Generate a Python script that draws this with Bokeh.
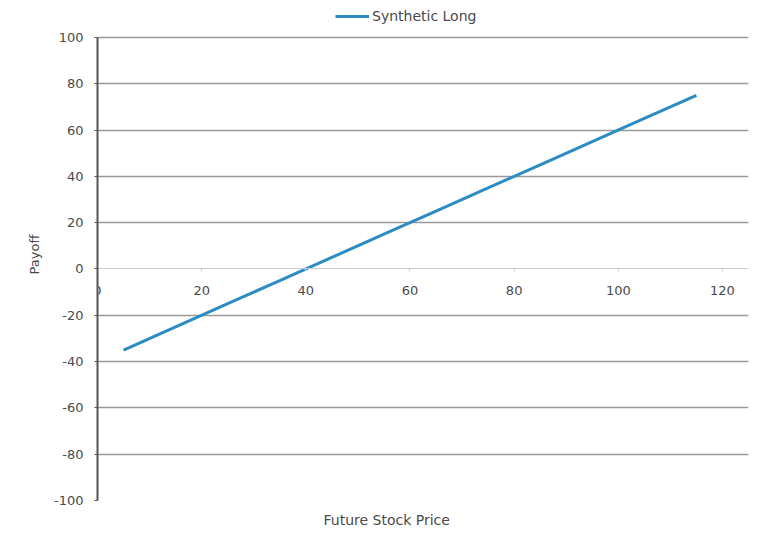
from bokeh.plotting import figure
from bokeh.models import Range1d, Legend, LegendItem, Title, FixedTicker, PrintfTickFormatter
from bokeh.embed import file_html
from bokeh.resources import INLINE

stock_price = [5, 15, 25, 35, 45, 55, 65, 75, 85, 95, 105, 115]
payoff = [-35, -25, -15, -5, 5, 15, 25, 35, 45, 55, 65, 75]
x_ticks = [0, 20, 40, 60, 80, 100, 120]
y_ticks = [-100, -80, -60, -40, -20, 0, 20, 40, 60, 80, 100]
series_name = "Synthetic Long"

FONT = "DejaVu Sans"
FS = "13px"
FS2 = "14px"
TXT = "#4a4a4a"

p = figure(output_backend="svg", toolbar_location=None,
           x_range=Range1d(0, 125), y_range=Range1d(-100, 112.5),
           min_border_left=97, min_border_right=8, min_border_top=8, min_border_bottom=35,
           frame_width=651, frame_height=492)
p.outline_line_color = None
p.background_fill_color = "white"

r = p.line(stock_price, payoff, line_color="#2b8cc4", line_width=3)

# y axis
p.yaxis.ticker = FixedTicker(ticks=y_ticks)
p.yaxis.formatter = PrintfTickFormatter(format="%d")
p.yaxis.bounds = (-100, 100)
p.yaxis.axis_line_color = "#555555"
p.yaxis.axis_line_width = 2
p.yaxis.major_tick_line_color = "#555555"
p.yaxis.major_tick_out = 3
p.yaxis.major_tick_in = 0
p.yaxis.minor_tick_line_color = None
p.yaxis.major_label_text_font = FONT
p.yaxis.major_label_text_font_size = FS
p.yaxis.major_label_text_color = TXT
p.yaxis.major_label_standoff = 11
p.yaxis.axis_label = "Payoff"
p.yaxis.axis_label_text_font = FONT
p.yaxis.axis_label_text_font_size = FS
p.yaxis.axis_label_text_font_style = "normal"
p.yaxis.axis_label_text_color = TXT
p.yaxis.axis_label_standoff = 9

# x axis at y=0
p.xaxis.fixed_location = 0
p.xaxis.ticker = FixedTicker(ticks=x_ticks)
p.xaxis.formatter = PrintfTickFormatter(format="%d")
p.xaxis.axis_line_color = "#cccccc"
p.xaxis.major_tick_line_color = "#cccccc"
p.xaxis.major_tick_out = 3
p.xaxis.major_tick_in = 0
p.xaxis.minor_tick_line_color = None
p.xaxis.major_label_text_font = FONT
p.xaxis.major_label_text_font_size = FS
p.xaxis.major_label_text_color = TXT
p.xaxis.major_label_standoff = 14

p.xgrid.visible = False
p.ygrid.ticker = FixedTicker(ticks=[t for t in y_ticks if t != 0])
p.ygrid.grid_line_color = "#999999"
p.ygrid.grid_line_width = 1.5

p.add_layout(Title(text="Future Stock Price", align="left", offset=226, text_font=FONT,
                   text_font_size=FS2, text_font_style="normal",
                   text_color=TXT, standoff=18), "below")

legend = Legend(items=[LegendItem(label=series_name, renderers=[r])],
                orientation="horizontal", location=(238, 476),
                label_text_font=FONT, label_text_font_size=FS2,
                label_text_color=TXT, border_line_color=None,
                background_fill_alpha=0, glyph_width=34, glyph_height=14,
                label_standoff=3, label_height=14,
                padding=0, margin=0)
p.add_layout(legend, "center")

open("out.html", "w").write(file_html(p, INLINE))
